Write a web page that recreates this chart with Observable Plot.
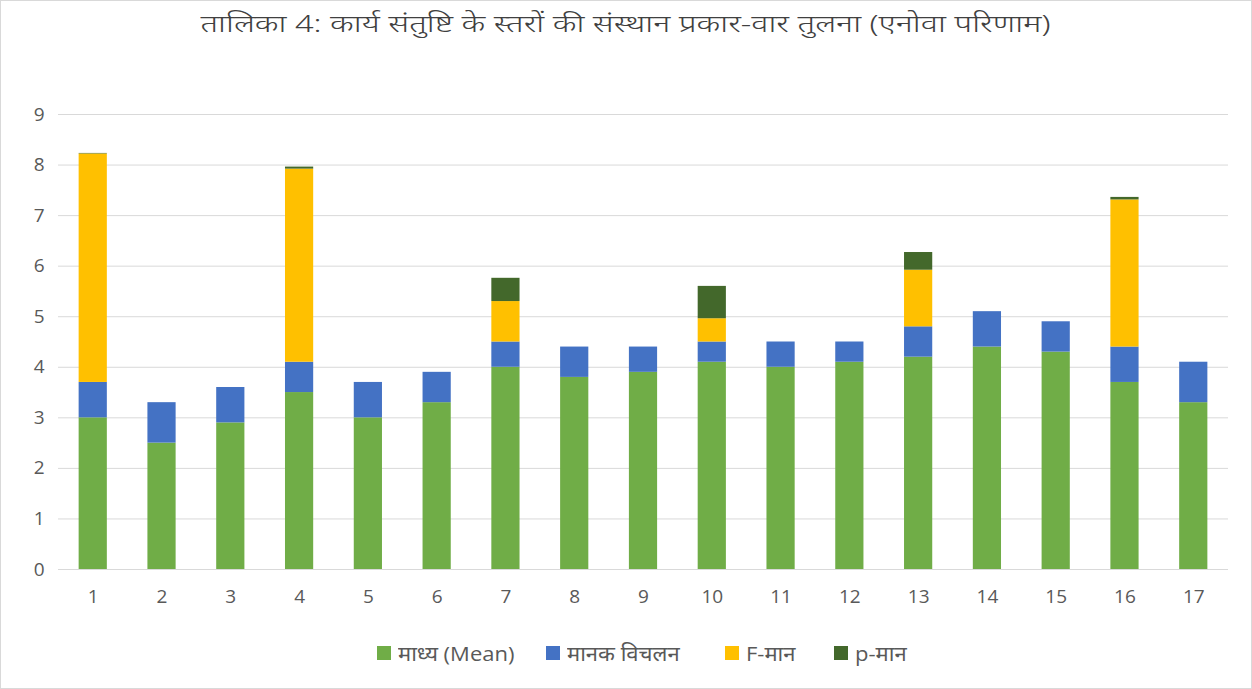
<!DOCTYPE html>
<html>
<head>
<meta charset="utf-8">
<script src="https://cdn.jsdelivr.net/npm/d3@7"></script>
<script src="https://cdn.jsdelivr.net/npm/@observablehq/plot@0.6"></script>
<style>
  html, body { margin: 0; padding: 0; background: #fff; }
  #wrap { position: relative; width: 1250px; height: 687px; border: 1px solid #d9d9d9; overflow: hidden;
          font-family: "Noto Sans", "Open Sans", sans-serif; }
  #title { height: 50px; line-height: 44px; text-align: center; font-size: 24px; color: #404040; font-weight: 300; }
  #title span { display: inline-block; transform: scaleX(1.36); transform-origin: center; }
  #legend { position: absolute; top: 639px; left: 0; width: 1250px; height: 26px;
            font-size: 20px; color: #595959; font-family: "Open Sans", "Noto Sans", sans-serif; }
  .item { position: absolute; top: 0; display: flex; align-items: center; gap: 7px; white-space: nowrap; height: 26px; }
  .sw { width: 14px; height: 14px; display: inline-block; flex: none; }
  .lt { display: inline-block; transform: scaleX(1.1); transform-origin: left center; }
</style>
</head>
<body>
<div id="wrap">
  <div id="title"><span>तालिका 4: कार्य संतुष्टि के स्तरों की संस्थान प्रकार-वार तुलना (एनोवा परिणाम)</span></div>
  <div id="chart"></div>
  <div id="legend"></div>
</div>
<script>
const categories = ["1","2","3","4","5","6","7","8","9","10","11","12","13","14","15","16","17"];
const seriesNames = ["माध्य (Mean)", "मानक विचलन", "F-मान", "p-मान"];
const seriesColors = ["#70AD47", "#4472C4", "#FFC000", "#43682B"];
const meanValues = [3.0, 2.5, 2.9, 3.5, 3.0, 3.3, 4.0, 3.8, 3.9, 4.1, 4.0, 4.1, 4.2, 4.4, 4.3, 3.7, 3.3];
const sdValues   = [0.7, 0.8, 0.7, 0.6, 0.7, 0.6, 0.5, 0.6, 0.5, 0.4, 0.5, 0.4, 0.6, 0.7, 0.6, 0.7, 0.8];
const fValues    = [4.52, 0, 0, 3.82, 0, 0, 0.8, 0, 0, 0.46, 0, 0, 1.12, 0, 0, 2.91, 0];
const pValues    = [0.01, 0, 0, 0.04, 0, 0, 0.46, 0, 0, 0.64, 0, 0, 0.35, 0, 0, 0.05, 0];
const yTicks = [0,1,2,3,4,5,6,7,8,9];
const legendLeft = [376, 545, 724, 833];

const allSeries = [meanValues, sdValues, fValues, pValues];
const data = [];
allSeries.forEach((vals, si) => {
  categories.forEach((c, i) => data.push({cat: c, series: seriesNames[si], value: vals[i]}));
});

const chart = Plot.plot({
  width: 1250,
  height: 558,
  marginTop: 63,
  marginBottom: 40,
  marginLeft: 57,
  marginRight: 23,
  style: {fontFamily: "'Open Sans', 'Noto Sans', sans-serif", fontSize: "19px", color: "#595959", background: "#fff"},
  x: {domain: categories, paddingInner: 0.59, paddingOuter: 0.3, round: false, label: null},
  y: {domain: [0, 9], ticks: yTicks, label: null},
  color: {domain: seriesNames, range: seriesColors},
  marks: [
    Plot.ruleY(yTicks, {stroke: "#d9d9d9", strokeWidth: 1}),
    Plot.barY(data, {x: "cat", y: "value", fill: "series", order: seriesNames}),
    Plot.axisY({ticks: yTicks, tickSize: 0, tickPadding: 14, fill: "#595959", fontSize: 19, label: null}),
    Plot.axisX({tickSize: 0, tickPadding: 20, fill: "#595959", fontSize: 19, label: null})
  ]
});
document.getElementById("chart").appendChild(chart);

const legend = document.getElementById("legend");
seriesNames.forEach((n, i) => {
  const it = document.createElement("div");
  it.className = "item";
  it.style.left = legendLeft[i] + "px";
  it.innerHTML = `<span class="sw" style="background:${seriesColors[i]}"></span><span class="lt">${n}</span>`;
  legend.appendChild(it);
});
</script>
</body>
</html>
